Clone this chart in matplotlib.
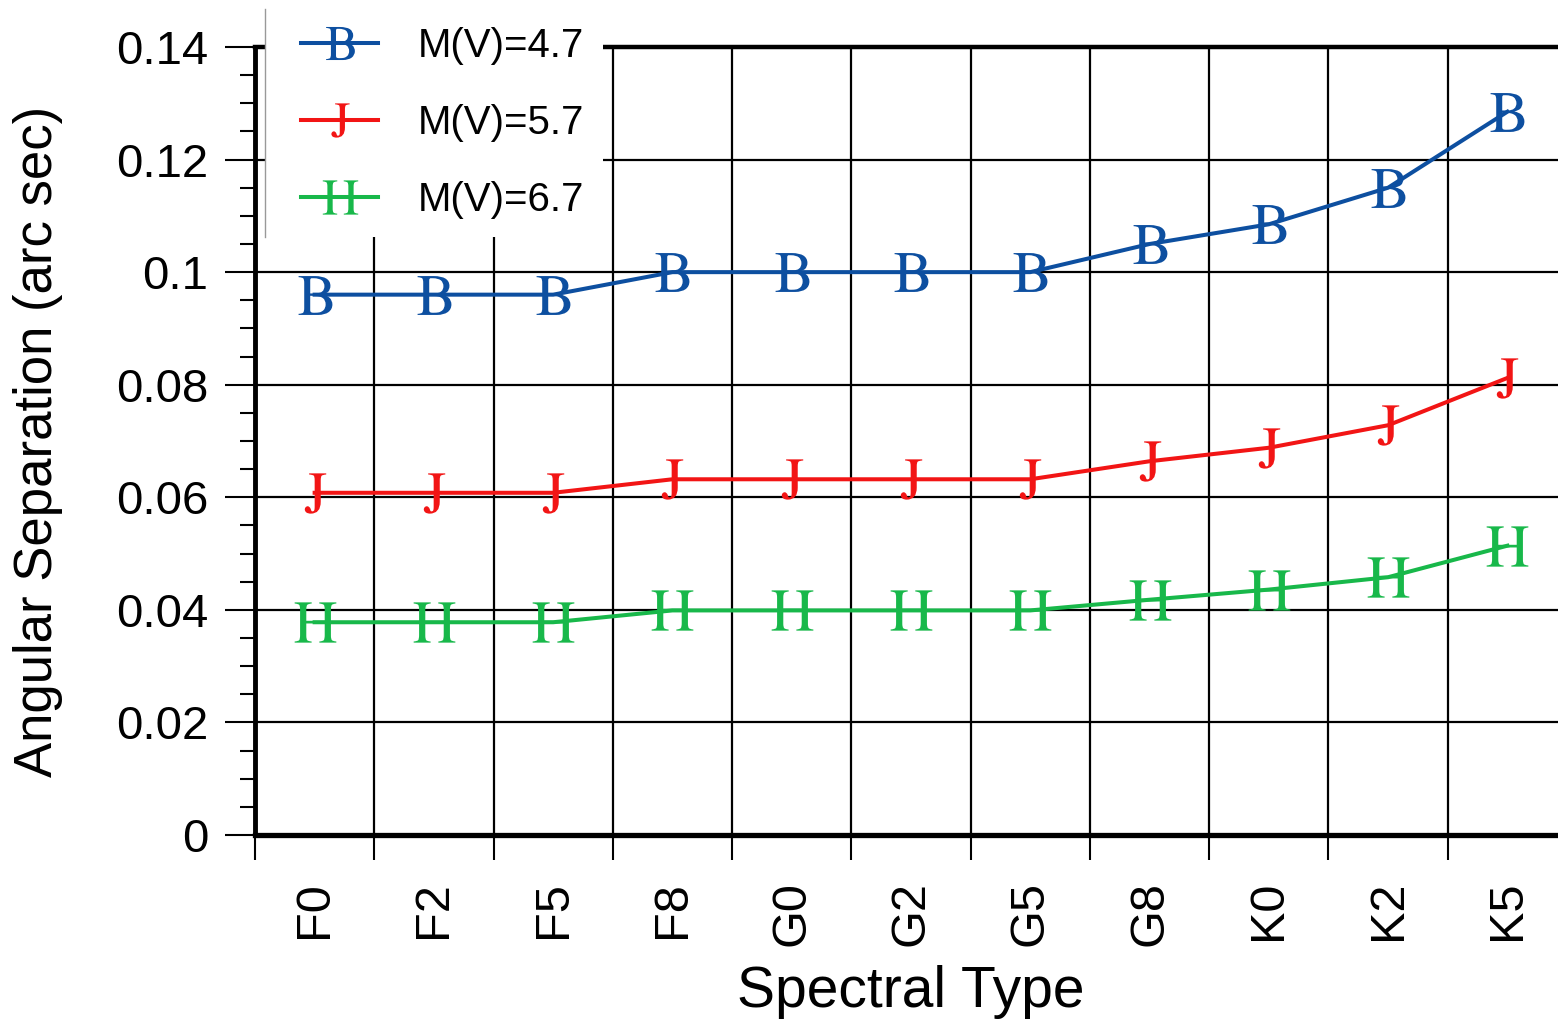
import matplotlib
matplotlib.use("Agg")
import matplotlib.pyplot as plt
from matplotlib.lines import Line2D
from matplotlib.legend_handler import HandlerLine2D
from matplotlib.ticker import FixedLocator, FixedFormatter, MultipleLocator, NullFormatter

# ---- data ----
categories = ['F0', 'F2', 'F5', 'F8', 'G0', 'G2', 'G5', 'G8', 'K0', 'K2', 'K5']
mv47 = [0.096, 0.096, 0.096, 0.100, 0.100, 0.100, 0.100, 0.105, 0.1085, 0.115, 0.1285]
mv57 = [0.0608, 0.0608, 0.0608, 0.0632, 0.0632, 0.0632, 0.0632, 0.0664, 0.0688, 0.0728, 0.0812]
mv67 = [0.0378, 0.0378, 0.0378, 0.0399, 0.0399, 0.0399, 0.0399, 0.0418, 0.0436, 0.0458, 0.0514]
series_labels = ['M(V)=4.7', 'M(V)=5.7', 'M(V)=6.7']
series_markers = ['B', 'J', 'H']
series_colors = ['#0D4FA0', '#F21515', '#18B84A']
ytick_values = [0, 0.02, 0.04, 0.06, 0.08, 0.1, 0.12, 0.14]
ytick_labels = ['0', '0.02', '0.04', '0.06', '0.08', '0.1', '0.12', '0.14']
xlabel = 'Spectral Type'
ylabel = 'Angular Separation (arc sec)'

plt.rcParams['font.family'] = ['Liberation Sans', 'DejaVu Sans']
plt.rcParams['mathtext.fontset'] = 'stix'

W, H = 1558, 1021
fig = plt.figure(figsize=(W / 100, H / 100), dpi=100)
ax = fig.add_axes([255 / W, 1 - 835 / H, 1312 / W, 788 / H])

x = list(range(len(categories)))
for vals, lab, mk, col, ms in zip([mv47, mv57, mv67], series_labels, series_markers,
                                  series_colors, [28, 29, 30]):
    ax.plot(x, vals, color=col, lw=2.9, marker=r'$\mathrm{%s}$' % mk, markersize=ms,
            markeredgewidth=0, label=lab, zorder=3, clip_on=False)

ax.set_xlim(-0.5, len(categories) - 0.5)
ax.set_ylim(0, 0.14)

# x: boundaries as major ticks (grid), category centres as minor (labels)
ax.xaxis.set_major_locator(FixedLocator([i - 0.5 for i in range(len(categories) + 1)]))
ax.xaxis.set_major_formatter(NullFormatter())
ax.xaxis.set_minor_locator(FixedLocator(x))
ax.xaxis.set_minor_formatter(FixedFormatter(categories))
ax.tick_params(axis='x', which='major', direction='out', length=18, width=1.5)
ax.tick_params(axis='x', which='minor', length=0, pad=33, labelsize=35, labelrotation=90)

ax.yaxis.set_major_locator(FixedLocator(ytick_values))
ax.yaxis.set_major_formatter(FixedFormatter(ytick_labels))
ax.yaxis.set_minor_locator(MultipleLocator(0.005))
ax.tick_params(axis='y', which='major', direction='out', length=21.6, width=1.5, pad=12,
               labelsize=34)
ax.tick_params(axis='y', which='minor', direction='out', length=10.8, width=1.5)

ax.grid(True, which='major', color='black', lw=1.6)
ax.set_axisbelow(True)

ax.spines['right'].set_visible(False)
ax.spines['left'].set_linewidth(3.5)
ax.spines['bottom'].set_linewidth(3.8)
ax.spines['top'].set_linewidth(3.2)

ax.set_xlabel(xlabel, fontsize=41, labelpad=14)
ax.set_ylabel(ylabel, fontsize=38, labelpad=38)

leg = ax.legend(loc='upper left', bbox_to_anchor=(265 / W, 1 - 9 / H),
                bbox_transform=fig.transFigure, fontsize=29, frameon=True,
                fancybox=False, framealpha=1, edgecolor='none', facecolor='white',
                handlelength=2.35, handletextpad=1.0, labelspacing=0.97,
                borderpad=0.45, borderaxespad=0, markerscale=0.85,
                handler_map={Line2D: HandlerLine2D(xpad=0.45)})
leg.set_zorder(10)

# thin grey left border of the legend box
fig.canvas.draw()
bb = leg.get_window_extent().transformed(fig.transFigure.inverted())
fig.add_artist(Line2D([bb.x0, bb.x0], [bb.y0, bb.y1], transform=fig.transFigure,
                      color='#999999', lw=1.0, zorder=11))

fig.savefig('out.png', dpi=100)
